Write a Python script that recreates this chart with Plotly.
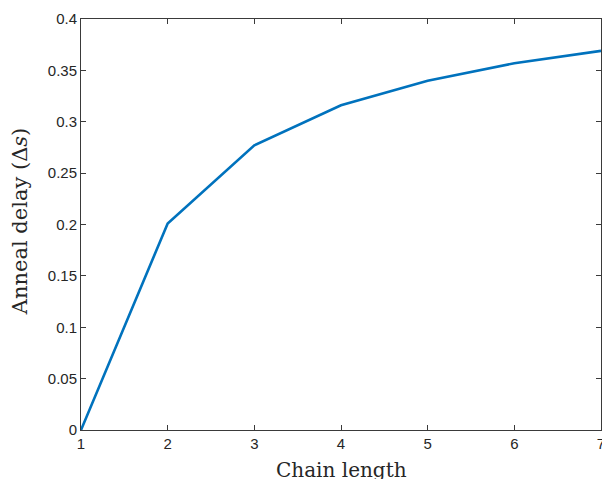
import plotly.graph_objects as go

chain_length = [1, 2, 3, 4, 5, 6, 7]
anneal_delay = [0.0, 0.201, 0.277, 0.316, 0.340, 0.357, 0.369]

x_ticks = [1, 2, 3, 4, 5, 6, 7]
y_ticks = [0, 0.05, 0.1, 0.15, 0.2, 0.25, 0.3, 0.35, 0.4]
y_tick_labels = ["0", "0.05", "0.1", "0.15", "0.2", "0.25", "0.3", "0.35", "0.4"]

fig = go.Figure()
fig.add_trace(go.Scatter(x=chain_length, y=anneal_delay, mode="lines",
                         line=dict(color="#0072BD", width=2.6), showlegend=False,
                         cliponaxis=False))

axis_common = dict(showgrid=False, zeroline=False, showline=True, mirror="ticks",
                   linecolor="#3a3a3a", linewidth=1, ticks="inside", ticklen=5,
                   tickcolor="#3a3a3a", tickwidth=1, automargin=False,
                   ticklabeloverflow="allow",
                   tickfont=dict(family="Liberation Sans, Arial", size=15, color="#262626"))

fig.update_xaxes(range=[1, 7], tickvals=x_ticks, **axis_common)
fig.update_yaxes(range=[0, 0.4], tickvals=y_ticks, ticktext=y_tick_labels, **axis_common)

fig.add_annotation(text="Chain length", xref="paper", yref="paper", x=0.5, y=-0.064,
                   xanchor="center", yanchor="top", showarrow=False,
                   font=dict(family="DejaVu Serif, serif", size=20, color="#262626"))
fig.add_annotation(text="Anneal delay (Δ<i>s</i>)", xref="paper", yref="paper",
                   x=-0.118, y=0.507, xanchor="center", yanchor="middle", textangle=-90,
                   showarrow=False,
                   font=dict(family="DejaVu Serif, serif", size=21, color="#262626"))

fig.update_layout(width=602, height=479, margin=dict(l=81, r=1, t=19, b=49, autoexpand=False),
                  paper_bgcolor="white", plot_bgcolor="white")

fig.write_html("out.html", config={"displayModeBar": False},
               post_script="document.body.style.margin='0';document.body.style.overflow='hidden';")
